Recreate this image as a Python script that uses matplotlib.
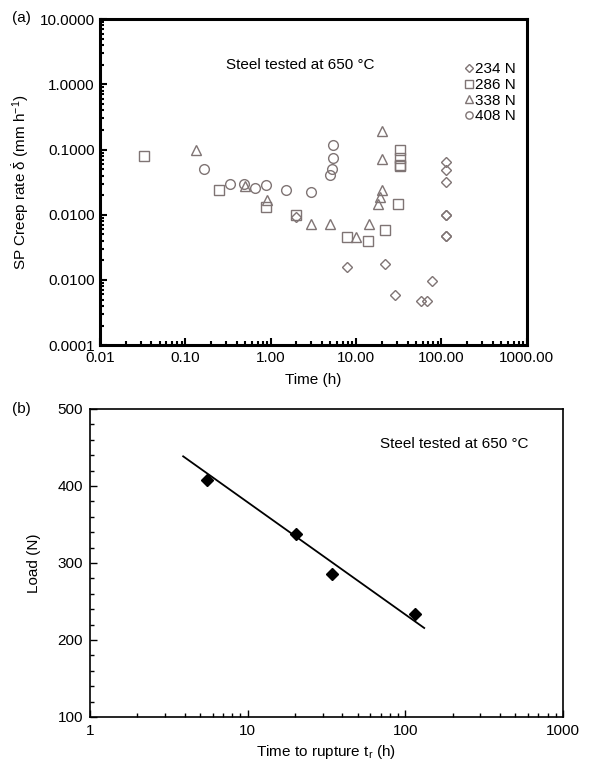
import matplotlib
matplotlib.use("Agg")
import matplotlib.pyplot as plt
from matplotlib.ticker import LogLocator, MultipleLocator, NullFormatter

plt.rcParams['font.family'] = ['Liberation Sans', 'DejaVu Sans']
plt.rcParams['mathtext.fontset'] = 'custom'
plt.rcParams['mathtext.rm'] = 'Liberation Sans'
plt.rcParams['mathtext.it'] = 'Liberation Sans:italic'
plt.rcParams['mathtext.bf'] = 'Liberation Sans:bold'

# ---- Panel (a) data: creep rate vs time ----
t_234 = [113, 113, 113, 113, 113, 113, 113, 7.9, 21.9, 28.6, 57.8, 67.3, 77, 2.0]
r_234 = [0.065, 0.048, 0.032, 0.0098, 0.0098, 0.0048, 0.0048, 0.0016, 0.00174, 0.00058, 0.00048, 0.00048, 0.00097, 0.0091]

t_286 = [0.033, 0.25, 0.87, 2.0, 7.9, 13.9, 21.9, 31.3, 32.8, 32.8, 32.8, 32.8]
r_286 = [0.081, 0.0237, 0.0131, 0.0099, 0.0045, 0.0040, 0.0058, 0.0148, 0.100, 0.075, 0.059, 0.055]

t_338 = [0.132, 0.5, 0.9, 3.0, 5.0, 10.0, 14.1, 17.9, 19.3, 20.0, 20.2, 20.2]
r_338 = [0.098, 0.028, 0.017, 0.0073, 0.0073, 0.0045, 0.0073, 0.0146, 0.019, 0.024, 0.072, 0.196]

t_408 = [0.166, 0.33, 0.49, 0.66, 0.88, 1.51, 3.0, 4.95, 5.18, 5.33, 5.4]
r_408 = [0.050, 0.030, 0.030, 0.0257, 0.029, 0.0237, 0.0226, 0.041, 0.050, 0.075, 0.119]

xticks_a = [0.01, 0.1, 1, 10, 100, 1000]
xticklabels_a = ["0.01", "0.10", "1.00", "10.00", "100.00", "1000.00"]
yticks_a = [0.0001, 0.001, 0.01, 0.1, 1, 10]
yticklabels_a = ["0.0001", "0.0100", "0.0100", "0.1000", "1.0000", "10.0000"]

# ---- Panel (b) data: load vs time to rupture ----
tr = [5.55, 20.2, 34.2, 115]
load = [408, 338, 286, 234]
fit_t = [3.9, 132]
fit_load = [438.5, 215.6]

mcol = '#7f7474'
fs = 11

fig = plt.figure(figsize=(6.14, 7.67), dpi=100)

# ---------------- (a) ----------------
axa = fig.add_axes([0.163, 0.550, 0.695, 0.425])
axa.set_xscale('log')
axa.set_yscale('log')
kw = dict(linestyle='none', markerfacecolor='none', markeredgecolor=mcol, markeredgewidth=1.0)
axa.plot(t_234, r_234, marker='D', markersize=5, label='234 N', **kw)
axa.plot(t_286, r_286, marker='s', markersize=7, label='286 N', **kw)
axa.plot(t_338, r_338, marker='^', markersize=7, label='338 N', **kw)
axa.plot(t_408, r_408, marker='o', markersize=7, label='408 N', **kw)
axa.set_xlim(0.01, 1000)
axa.set_ylim(0.0001, 10)
axa.set_xticks(xticks_a)
axa.set_xticklabels(xticklabels_a, fontsize=fs)
axa.set_yticks(yticks_a)
axa.set_yticklabels(yticklabels_a, fontsize=fs)
axa.xaxis.set_minor_locator(LogLocator(base=10, subs=range(2, 10), numticks=20))
axa.yaxis.set_minor_locator(LogLocator(base=10, subs=range(2, 10), numticks=20))
axa.xaxis.set_minor_formatter(NullFormatter())
axa.yaxis.set_minor_formatter(NullFormatter())
axa.tick_params(which='both', direction='in', top=False, right=False, width=1.5)
axa.tick_params(which='major', length=5, pad=4)
axa.tick_params(which='minor', length=3)
for s in axa.spines.values():
    s.set_linewidth(2.2)
axa.set_xlabel('Time (h)', fontsize=fs, labelpad=6)
axa.set_ylabel(r'SP Creep rate $\dot{\mathrm{\delta}}$ (mm h$^{-1}$)', fontsize=fs, labelpad=6)
leg = axa.legend(loc='upper right', bbox_to_anchor=(1.0, 0.9), frameon=False, fontsize=fs,
                 handlelength=0.6, handletextpad=0.1, labelspacing=0.1, borderaxespad=0.3,
                 markerscale=0.75)
axa.text(0.47, 0.86, 'Steel tested at 650 °C', transform=axa.transAxes, fontsize=fs,
         ha='center', va='center')
fig.text(0.02, 0.977, '(a)', fontsize=fs, ha='left', va='center')

# ---------------- (b) ----------------
axb = fig.add_axes([0.1466, 0.0652, 0.770, 0.4016])
axb.set_xscale('log')
axb.plot(fit_t, fit_load, color='black', linewidth=1.3)
axb.plot(tr, load, linestyle='none', marker='D', markersize=6, color='black')
axb.set_xlim(1, 1000)
axb.set_ylim(100, 500)
axb.set_xticks([1, 10, 100, 1000])
axb.set_xticklabels(['1', '10', '100', '1000'], fontsize=fs)
axb.yaxis.set_major_locator(MultipleLocator(100))
axb.yaxis.set_minor_locator(MultipleLocator(20))
axb.tick_params(axis='y', labelsize=fs)
axb.xaxis.set_minor_locator(LogLocator(base=10, subs=range(2, 10), numticks=20))
axb.xaxis.set_minor_formatter(NullFormatter())
axb.tick_params(which='both', direction='in', top=False, right=False, width=1.0)
axb.tick_params(which='major', length=5, pad=5)
axb.tick_params(which='minor', length=3)
for s in axb.spines.values():
    s.set_linewidth(1.2)
axb.set_xlabel(r'Time to rupture t$_\mathrm{r}$ (h)', fontsize=fs, labelpad=4)
axb.set_ylabel('Load (N)', fontsize=fs, labelpad=12)
axb.text(0.77, 0.885, 'Steel tested at 650 °C', transform=axb.transAxes, fontsize=fs,
         ha='center', va='center')
fig.text(0.02, 0.467, '(b)', fontsize=fs, ha='left', va='center')

fig.savefig('out.png', dpi=100)
